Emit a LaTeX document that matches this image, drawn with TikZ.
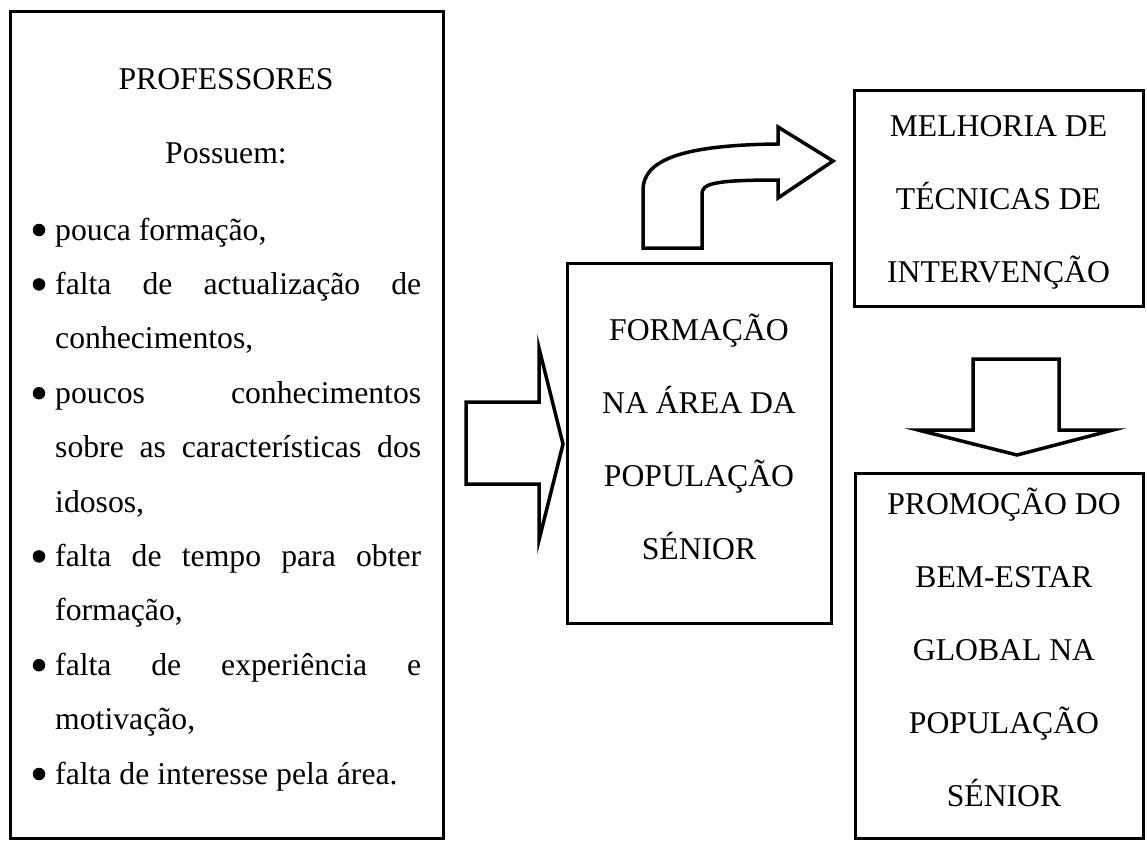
\documentclass[tikz,border=0pt]{standalone}
\usepackage{fontspec}
\setmainfont{Liberation Serif}
\begin{document}
\begin{tikzpicture}[x=1pt,y=-1pt,
  box/.style={draw=black, line width=3pt, inner sep=0pt},
  blockarrow/.style={draw=black, line width=3.5pt, line join=miter, fill=white},
  ctxt/.style={anchor=base, inner sep=0pt, font=\fontsize{31.7}{38}\selectfont},
  ltxt/.style={anchor=base west, inner sep=0pt, font=\fontsize{31.7}{38}\selectfont},
  dot/.style={circle, fill=black, inner sep=0pt, minimum size=12.5pt}]
\useasboundingbox (0,0) rectangle (1147,840);
\fill[white] (0,0) rectangle (1147,840);

% boxes
\node[box, minimum width=433pt, minimum height=826pt] (prof) at (226.5,425) {};
\node[box, minimum width=264pt, minimum height=360pt] (form) at (699,443) {};
\node[box, minimum width=289pt, minimum height=215pt] (melh) at (998.5,198.5) {};
\node[box, minimum width=288pt, minimum height=365pt] (prom) at (999,655.5) {};

% left box text
\node[ctxt] (t1) at (226,90) {PROFESSORES};
\node[ctxt] (t2) at (226,163) {Possuem:};
\newcommand{\jl}[1]{\makebox[366pt][s]{#1}}
\node[ltxt] (l0) at (55,240) {pouca formação,};
\node[ltxt] (l1) at (55,294.4) {\jl{falta de actualização de}};
\node[ltxt] (l2) at (55,348.8) {conhecimentos,};
\node[ltxt] (l3) at (55,403.2) {\jl{poucos conhecimentos}};
\node[ltxt] (l4) at (55,457.6) {\jl{sobre as características dos}};
\node[ltxt] (l5) at (55,512) {idosos,};
\node[ltxt] (l6) at (55,566.4) {\jl{falta de tempo para obter}};
\node[ltxt] (l7) at (55,620.8) {formação,};
\node[ltxt] (l8) at (55,675.2) {\jl{falta de experiência e}};
\node[ltxt] (l9) at (55,729.6) {motivação,};
\node[ltxt] (l10) at (55,784) {falta de interesse pela área.};
\node[dot] (b0) at (39,230) {};
\node[dot] (b1) at (39,284.4) {};
\node[dot] (b3) at (39,393.2) {};
\node[dot] (b6) at (39,556.4) {};
\node[dot] (b8) at (39,665.2) {};
\node[dot] (b10) at (39,774) {};

% middle box text
\node[ctxt] (f1) at (699,340) {FORMAÇÃO};
\node[ctxt] (f2) at (699,413) {NA ÁREA DA};
\node[ctxt] (f3) at (699,486) {POPULAÇÃO};
\node[ctxt] (f4) at (699,559) {SÉNIOR};

% top right text
\node[ctxt] (m1) at (998.5,136) {MELHORIA DE};
\node[ctxt] (m2) at (998.5,209) {TÉCNICAS DE};
\node[ctxt] (m3) at (998.5,282) {INTERVENÇÃO};

% bottom right text
\node[ctxt] (p1) at (1004,514) {PROMOÇÃO DO};
\node[ctxt] (p2) at (1004,587) {BEM-ESTAR};
\node[ctxt] (p3) at (1004,660) {GLOBAL NA};
\node[ctxt] (p4) at (1004,733) {POPULAÇÃO};
\node[ctxt] (p5) at (1004,806) {SÉNIOR};

% block arrows
\draw[blockarrow] (466,402) -- (539,402) -- (539,348) -- (563,444) -- (539,540)
  -- (539,484) -- (466,484) -- cycle;
\draw[blockarrow] (973,359) -- (1059,359) -- (1059,430) -- (1113,430) -- (1017,455)
  -- (918,430) -- (973,430) -- cycle;
\draw[blockarrow] (643,248) -- (643,190) .. controls (643,160) and (682,145) .. (778,144)
  -- (778,127) -- (833,161) -- (778,198) -- (778,180)
  .. controls (712,180) and (702,184) .. (702,194) -- (702,248) -- cycle;
\end{tikzpicture}
\end{document}
